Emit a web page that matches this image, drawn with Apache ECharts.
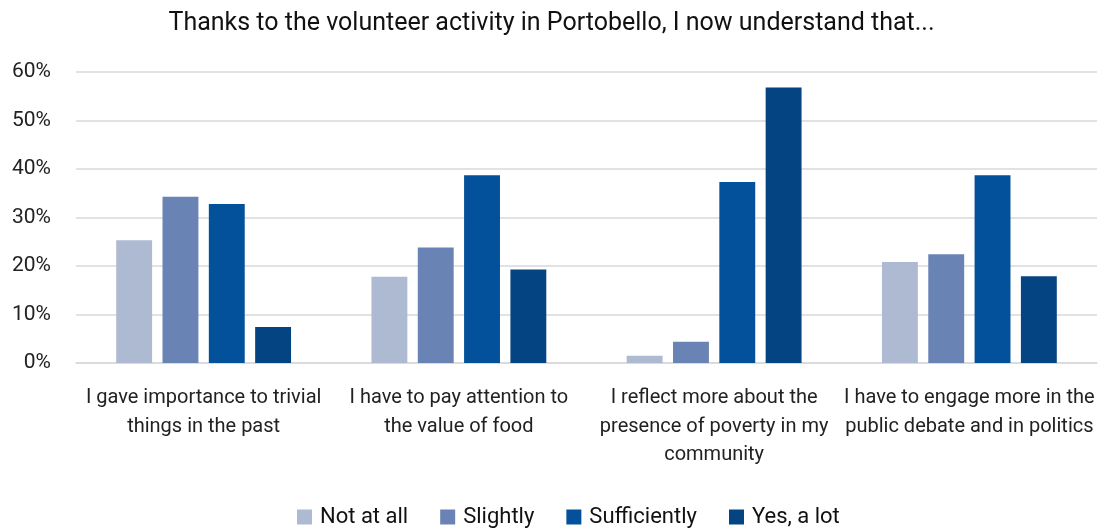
<!DOCTYPE html>
<html><head><meta charset="utf-8">
<script src="https://cdn.jsdelivr.net/npm/echarts@6/dist/echarts.min.js"></script>
<style>html,body{margin:0;padding:0;background:#fff}#c{width:1103px;height:530px}</style>
</head><body><div id="c"></div>
<script>
const categories = [
  "I gave importance to trivial\nthings in the past",
  "I have to pay attention to\nthe value of food",
  "I reflect more about the\npresence of poverty in my\ncommunity",
  "I have to engage more in the\npublic debate and in politics"
];
const seriesNames = ["Not at all", "Slightly", "Sufficiently", "Yes, a lot"];
const notAtAll = [25.3, 17.8, 1.5, 20.8];
const slightly = [34.3, 23.8, 4.4, 22.4];
const sufficiently = [32.8, 38.7, 37.3, 38.7];
const yesALot = [7.4, 19.3, 56.8, 17.9];
const colors = ["#aeb9d2", "#6a83b5", "#03519b", "#044482"];
const values = [notAtAll, slightly, sufficiently, yesALot];
const font = "Roboto";
const chart = echarts.init(document.getElementById('c'));
chart.setOption({
  animation: false,
  textStyle: {fontFamily: font},
  title: {text: "Thanks to the volunteer activity in Portobello, I now understand that...", left: 'center', top: 6,
    textStyle: {fontFamily: font, fontWeight: 'normal', fontSize: 25, color: '#111'}},
  legend: {top: 506, left: 297, padding: 0, itemWidth: 15, itemHeight: 15, itemGap: 32, icon: 'rect',
    textStyle: {fontFamily: font, fontSize: 22, color: '#111', padding: [0, 0, 0, 3]}, data: seriesNames},
  grid: {left: 76, right: 6, top: 72, bottom: 167, containLabel: false},
  xAxis: {type: 'category', data: categories,
    axisLine: {lineStyle: {color: '#d9d9d9', width: 1.5}}, axisTick: {show: false},
    axisLabel: {fontFamily: font, fontSize: 20, color: '#222', lineHeight: 28.5, margin: 21, interval: 0}},
  yAxis: {type: 'value', min: 0, max: 60, interval: 10,
    axisLabel: {formatter: '{value}%', fontFamily: font, fontSize: 21, color: '#222', margin: 25},
    splitLine: {lineStyle: {color: '#d9d9d9', width: 1.5}}, axisLine: {show: false}},
  series: seriesNames.map((n, i) => ({
    name: n, type: 'bar', data: values[i], barGap: '29%', barCategoryGap: '31.5%',
    itemStyle: {color: colors[i]}
  }))
});
</script></body></html>
